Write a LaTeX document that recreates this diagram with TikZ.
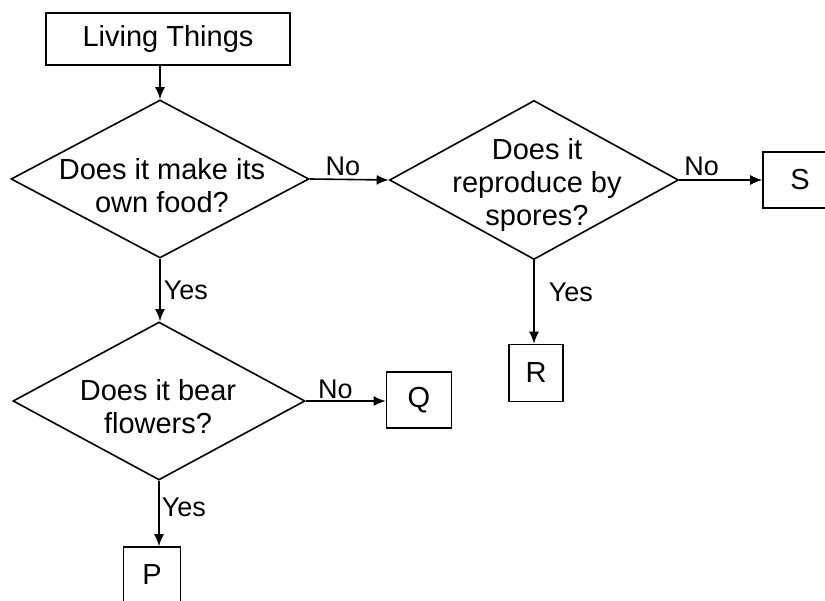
\documentclass[tikz,border=0pt]{standalone}
\usepackage{fontspec}
\setmainfont{Liberation Sans}
\usetikzlibrary{shapes.geometric,arrows.meta}
\tikzset{
  box/.style={draw, line width=1.6pt, inner sep=0pt, font=\fontsize{29}{33}\selectfont},
  letter/.style={box, minimum width=56pt, minimum height=56pt},
  decision/.style={draw, diamond, line width=1.6pt, inner sep=0pt, minimum width=294pt, minimum height=158pt},
  question/.style={align=center, inner sep=0pt, font=\fontsize{29}{33}\selectfont},
  arr/.style={-{Latex[length=12pt,width=10pt]}, line width=1.6pt},
  tag/.style={font=\fontsize{27}{30}\selectfont}
}
\begin{document}
\begin{tikzpicture}[x=1pt,y=-1pt]
      \useasboundingbox (0,0) rectangle (825,601);
      % boxes and questions
      \node[box, minimum width=244pt, minimum height=52pt] (living) at (168,39) {Living Things};
      \node[decision, minimum width=298pt] (food) at (160,179) {};
      \node[question] (foodtext) at (162,186) {Does it make its\\own food?};
      \node[decision, minimum width=289pt, minimum height=159pt] (spores) at (534,180) {};
      \node[question] (sporestext) at (537,185) {Does it\\reproduce by\\spores?};
      \node[decision, minimum width=292pt] (flowers) at (159,401) {};
      \node[question] (flowerstext) at (158,407) {Does it bear\\flowers?};
      \node[letter, minimum width=74pt] (s) at (800,180) {S};
      \node[letter, minimum width=54pt, minimum height=57pt] (r) at (536,373) {R};
      \node[letter, minimum width=65pt] (q) at (419,400) {Q};
      \node[letter, minimum width=57pt] (p) at (152,575) {P};
      % connectors
      \draw[arr] (living.south -| food.north) -- (food.north);
      \draw[arr] (food.east) -- (spores.west) node[tag, above, pos=0.42, inner sep=3pt] {No};
      \draw[arr] (spores.east) -- (s.west) node[tag, above, pos=0.27, inner sep=3pt] {No};
      \draw[arr] (spores.south) -- (spores.south |- r.north) node[tag, right, pos=0.39, inner sep=0pt, xshift=14pt] {Yes};
      \draw[arr] (food.south) -- (food.south |- flowers.north) node[tag, right, pos=0.5, inner sep=3pt] {Yes};
      \draw[arr] (flowers.east) -- (flowers.east -| q.west) node[tag, above, pos=0.37, inner sep=1pt] {No};
      \draw[arr] (flowers.south) -- (flowers.south |- p.north) node[tag, right, pos=0.4, inner sep=2pt] {Yes};
\end{tikzpicture}
\end{document}
